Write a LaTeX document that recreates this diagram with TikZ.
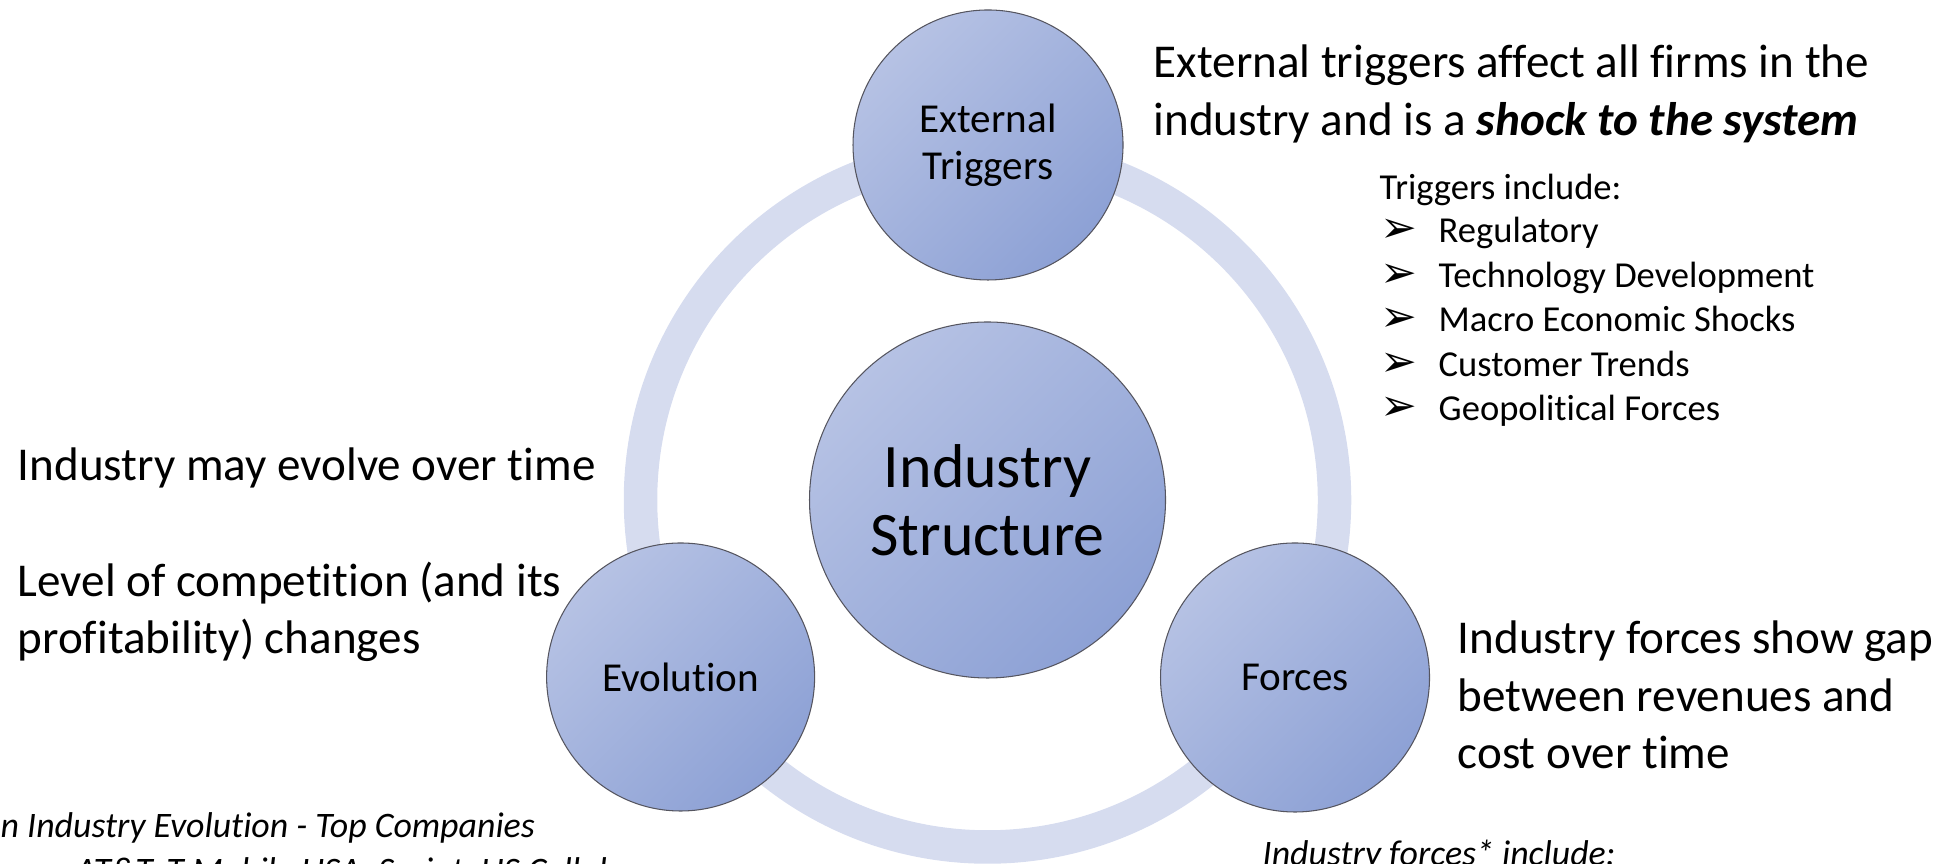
\documentclass[tikz,border=0pt]{standalone}
\usepackage{fontspec}
\setmainfont{Carlito}[Ligatures=NoCommon]
\newfontfamily\dingfont{DejaVu Sans}
\usepackage{tikz}
\usetikzlibrary{positioning}
\definecolor{ringblue}{RGB}{214, 220, 239}
\definecolor{ballhi}{RGB}{182, 194, 228}
\definecolor{balllo}{RGB}{141, 161, 213}
\definecolor{ballrim}{RGB}{85, 85, 95}
\newcommand{\tipbullet}{\makebox[0.58cm][l]{\fontsize{12.5}{12.5}\dingfont\char"27A2}}
\tikzset{ball/.style = {circle, draw=ballrim, line width=0.3pt,
                        top color=ballhi, bottom color=balllo, shading angle=45,
                        align=center, inner sep=0pt},
         note/.style = {anchor = base west, inner sep=0pt, align=left},
         bigtext/.style = {font=\fontsize{13.4}{16.5}\selectfont},
         smalltext/.style = {font=\fontsize{10.4}{12.7}\selectfont},
         notetext/.style = {font=\fontsize{10.2}{12.5}\selectfont\itshape}}

\begin{document}
\begin{tikzpicture}
      \useasboundingbox (0, 0) rectangle (19.44, 8.64);

      % ring behind the circles
      \coordinate (ringc) at (9.875, 3.64);
      \draw [ringblue, line width=0.335cm] (ringc) circle (3.47);

      \node [ball, minimum size=3.56cm, font=\fontsize{17.6}{19.4}\selectfont]
        (struct) at (ringc) {Industry\\Structure};
      \node [ball, minimum size=2.70cm, font=\fontsize{11.7}{13.4}\selectfont]
        (trig) at (9.88, 7.19) {External\\Triggers};
      \node [ball, minimum size=2.68cm, font=\fontsize{11.7}{13.4}\selectfont]
        (evol) at (6.806, 1.87) {Evolution};
      \node [ball, minimum size=2.69cm, font=\fontsize{11.7}{13.4}\selectfont]
        (forc) at (12.95, 1.865) {Forces};

      % triggers (base = last line)
      \node [note, bigtext] (shock) at (11.53, 7.28)
        {External triggers affect all firms in the\\industry and is a \textbf{\textit{shock to the system}}};
      \node [note, smalltext] (incl) at (13.79, 6.64) {Triggers include:};
      \node [note, smalltext] (reg) at (13.80, 6.21) {\tipbullet Regulatory};
      \node [note, smalltext] (tech) at (13.80, 5.765) {\tipbullet Technology Development};
      \node [note, smalltext] (macro) at (13.80, 5.32) {\tipbullet Macro Economic Shocks};
      \node [note, smalltext] (cust) at (13.80, 4.875) {\tipbullet Customer Trends};
      \node [note, smalltext] (geo) at (13.80, 4.43) {\tipbullet Geopolitical Forces};

      % evolution
      \node [note, bigtext] (evolve) at (0.17, 3.83) {Industry may evolve over time};
      \node [note, bigtext] (level) at (0.17, 2.10) {Level of competition (and its\\profitability) changes};
      \node [note, notetext] (top) at (0, 0.26) {n Industry Evolution - Top Companies};
      \node [note, notetext] (firms) at (0.75, -0.19) {AT\&T, T-Mobile USA, Sprint, US Cellular};

      % forces
      \node [note, bigtext] (gap) at (14.57, 0.95) {Industry forces show gap\\between revenues and\\cost over time};
      \node [note, notetext] (fincl) at (12.62, -0.02) {Industry forces* include:};
\end{tikzpicture}
\end{document}
